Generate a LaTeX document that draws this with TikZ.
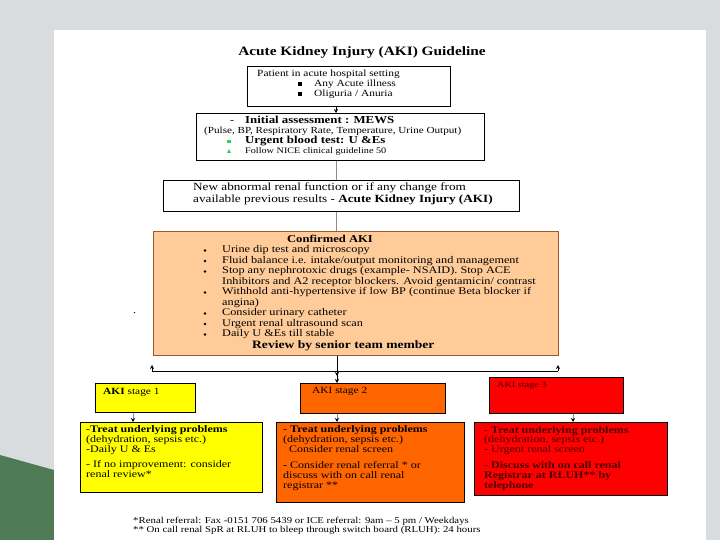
\documentclass[tikz,border=0pt]{standalone}
\usepackage{fontspec}
\setmainfont{Liberation Serif}[FakeStretch=1.2]
\usetikzlibrary{arrows.meta}
\definecolor{bgc}{HTML}{D9DCDE}
\definecolor{bggreen}{HTML}{4E7A55}
\definecolor{peach}{HTML}{FFCC99}
\definecolor{peachline}{HTML}{9C5A2C}
\definecolor{stageyellow}{HTML}{FFFF00}
\definecolor{stageorange}{HTML}{FF6600}
\definecolor{stagered}{HTML}{FF0000}
\definecolor{darkred}{HTML}{4A0000}
\definecolor{nicegreen}{HTML}{33CC66}
\begin{document}
\begin{tikzpicture}[x=1pt,y=-1pt,
  box/.style={draw=black, line width=0.8pt, inner sep=0pt, anchor=north west},
  t/.style={anchor=mid west, inner sep=0pt, font=\fontsize{10.2}{11}\selectfont},
  ts/.style={anchor=mid west, inner sep=0pt, font=\fontsize{8.5}{10}\selectfont},
  tq/.style={anchor=mid west, inner sep=0pt, font=\fontsize{10}{10}\selectfont},
  tqb/.style={anchor=mid west, inner sep=0pt, font=\bfseries\fontsize{10}{10}\selectfont},
  tb/.style={anchor=mid west, inner sep=0pt, font=\bfseries\fontsize{10.7}{11}\selectfont},
  arr/.style={-{Stealth[length=4pt,width=4pt]}, line width=0.6pt},
  link/.style={draw=black!45, line width=0.8pt},
  garr/.style={draw=black!45, line width=0.8pt, -{Stealth[length=4pt,width=4pt,black]}}]
\useasboundingbox (0,0) rectangle (720,540);
% background
\fill[bgc] (0,0) rectangle (720,540);
\fill[bggreen] (0,455) -- (54,470) -- (54,540) -- (0,540) -- cycle;
\fill[white] (54,30) rectangle (706,540);

% title
\node[inner sep=0pt, font=\bfseries\fontsize{12.8}{14}\selectfont] (title) at (362,52) {Acute Kidney Injury (AKI) Guideline};

% box 1
\node[box, minimum width=203pt, minimum height=40pt] (b1) at (247,66) {};
\node[t, font=\fontsize{9.5}{10.5}\selectfont] (p1) at (257,74) {Patient in acute hospital setting};
\fill (298,82) rectangle (302,86);
\fill (298,92) rectangle (302,96);
\node[t, font=\fontsize{9.5}{10.5}\selectfont] (p2) at (314,84) {Any Acute illness};
\node[t, font=\fontsize{9.5}{10.5}\selectfont] (p3) at (314,94) {Oliguria / Anuria};

% box 2
\node[box, minimum width=288pt, minimum height=47pt] (b2) at (196,113) {};
\node[t] (m0) at (230,121) {-};
\node[tb] (m1) at (245,121) {Initial assessment : MEWS};
\node[ts, font=\fontsize{9.3}{10}\selectfont] (m2) at (204,131) {(Pulse, BP, Respiratory Rate, Temperature, Urine Output)};
\fill[nicegreen] (227,140) rectangle (231,143);
\node[tb] (m3) at (245,141) {Urgent blood test: U \&Es};
\fill[nicegreen] (227,153) -- (229,149) -- (231,153) -- cycle;
\node[ts] (m4) at (245,151) {Follow NICE clinical guideline 50};

% box 3
\node[box, line width=1.3pt, minimum width=356pt, minimum height=31pt] (b3) at (163,180) {};
\node[t, font=\fontsize{11}{12}\selectfont] (n1) at (193,188) {New abnormal renal function or if any change from};
\node[t, font=\fontsize{11}{12}\selectfont] (n2) at (193,200) {available previous results - \textbf{Acute Kidney Injury (AKI)}};

% box 4
\node[box, draw=peachline, fill=peach, line width=1pt, minimum width=405pt, minimum height=124pt] (b4) at (153,231) {};
\node[tb, anchor=mid, font=\bfseries\fontsize{10.5}{11}\selectfont] (c0) at (330,240) {Confirmed AKI};
\foreach \yy in {250.5,261,271.5,292.5,313.5,324,334.5} {\fill (205,\yy) circle (1.3pt);}
\node[t] (c1) at (222,250.5) {Urine dip test and microscopy};
\node[t] (c2) at (222,261) {Fluid balance i.e. intake/output monitoring and management};
\node[t] (c3) at (222,271.5) {Stop any nephrotoxic drugs (example- NSAID). Stop ACE};
\node[t] (c4) at (222,282) {Inhibitors and A2 receptor blockers. Avoid gentamicin/ contrast};
\node[t] (c5) at (222,292.5) {Withhold anti-hypertensive if low BP (continue Beta blocker if};
\node[t] (c6) at (222,303) {angina)};
\node[t] (c7) at (222,313.5) {Consider urinary catheter};
\node[t] (c8) at (222,324) {Urgent renal ultrasound scan};
\node[t] (c9) at (222,334.5) {Daily U \&Es till stable};
\node[tb, font=\bfseries\fontsize{11.3}{12}\selectfont] (c10) at (252,346.5) {Review by senior team member};
\node[t] (dot) at (133,311) {.};

% stage boxes
\node[box, fill=stageyellow, minimum width=100pt, minimum height=29pt] (s1) at (95,383) {};
\node[t, font=\fontsize{9.5}{10.5}\selectfont] (s1t) at (103,392) {\textbf{AKI} stage 1};
\node[box, fill=stageorange, minimum width=145pt, minimum height=30pt] (s2) at (300,383) {};
\node[t, font=\fontsize{9.5}{10.5}\selectfont] (s2t) at (312,391) {AKI stage 2};
\node[box, fill=stagered, minimum width=134pt, minimum height=36pt] (s3) at (489,377) {};
\node[ts, text=darkred] (s3t) at (497,385) {AKI stage 3};

% bottom boxes
\node[box, fill=stageyellow, minimum width=182pt, minimum height=70pt] (y1) at (80,422) {};
\node[tq] (y1a) at (86,430) {-\textbf{Treat underlying problems}};
\node[tq] (y1b) at (86,440) {(dehydration, sepsis etc.)};
\node[tq] (y1c) at (86,450) {-Daily U \& Es};
\node[tq] (y1d) at (86,465) {- If no improvement: consider};
\node[tq] (y1e) at (86,475) {renal review*};

\node[box, fill=stageorange, minimum width=188pt, minimum height=80pt] (o1) at (276,422) {};
\node[tq] (o1a) at (283,430) {- \textbf{Treat underlying problems}};
\node[tq] (o1b) at (283,440) {(dehydration, sepsis etc.)};
\node[tq] (o1c) at (283,450) {\ \ Consider renal screen};
\node[tq] (o1d) at (283,466) {- Consider renal referral * or};
\node[tq] (o1e) at (283,476) {discuss with on call renal};
\node[tq] (o1f) at (283,486) {registrar **};

\node[box, fill=stagered, minimum width=193pt, minimum height=73pt] (r1) at (474,422) {};
\node[tq, text=darkred] (r1a) at (484,431) {- \textbf{Treat underlying problems}};
\node[tq, text=darkred] (r1b) at (484,440) {(dehydration, sepsis etc.)};
\node[tq, text=darkred] (r1c) at (484,450) {- Urgent renal screen};
\node[tqb, text=darkred] (r1d) at (484,466) {- Discuss with on call renal};
\node[tqb, text=darkred] (r1e) at (484,476) {Registrar at RLUH** by};
\node[tqb, text=darkred] (r1f) at (484,486) {telephone};

% footnotes
\node[ts, font=\fontsize{9}{9}\selectfont] (f1) at (133,521) {*Renal referral: Fax -0151 706 5439 or ICE referral: 9am – 5 pm / Weekdays};
\node[ts, font=\fontsize{9}{9}\selectfont] (f2) at (133,530) {** On call renal SpR at RLUH to bleep through switch board (RLUH): 24 hours};

% connectors
\coordinate (cx) at (336,0);
\coordinate (jl) at (152,371);
\coordinate (jm) at (337,371);
\coordinate (jr) at (558,371);
\draw[arr] (b1.south -| cx) -- (b2.north -| cx);
\draw[link] (b2.south -| cx) -- (b3.north -| cx);
\draw[link] (b3.south -| cx) -- (b4.north -| cx);
\draw[arr] (b4.south -| jm) -- ([yshift=-5pt]jm);
\draw[line width=0.8pt] (jl) -- (jr);
\draw[arr] (jl) -- ([yshift=6pt]jl);
\draw[arr] (jm) -- (s2.north -| jm);
\draw[arr] (jr) -- ([yshift=6pt]jr);
\coordinate (k1) at (133,0);
\coordinate (k3) at (573,0);
\draw[garr] (s1.south -| k1) -- (y1.north -| k1);
\draw[garr] (s2.south -| jm) -- (o1.north -| jm);
\draw[garr] (s3.south -| k3) -- (r1.north -| k3);
\end{tikzpicture}
\end{document}
